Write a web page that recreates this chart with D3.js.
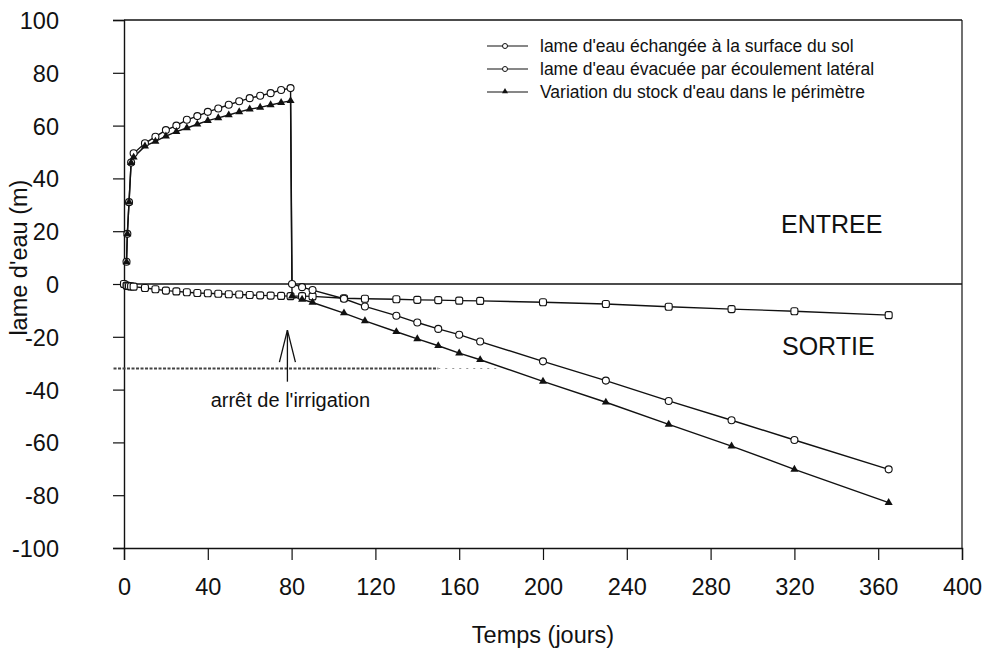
<!DOCTYPE html>
<html>
<head>
<meta charset="utf-8">
<script src="https://cdn.jsdelivr.net/npm/d3@7/dist/d3.min.js"></script>
<style>
  html, body { margin: 0; padding: 0; background: #fff; }
  svg { display: block; font-family: "Liberation Sans", Arial, sans-serif; }
</style>
</head>
<body>
<svg id="chart" width="986" height="650"></svg>
<script>
// Bilan hydrique du périmètre irrigué : lames d'eau cumulées (m) en fonction du temps (jours)

// Lame d'eau échangée à la surface du sol (cercles)
const surfaceDays   = [1.2, 1.6, 2.4, 3.4, 4.6, 10, 15, 20, 25, 30, 35, 40, 45, 50, 55, 60, 65, 70, 75, 79.5,
                       80.2, 85, 90, 105, 115, 130, 140, 150, 160, 170, 200, 230, 260, 290, 320, 365];
const surfaceValues = [8.4, 19, 31, 46, 49.5, 53.3, 55.8, 58.3, 60, 62.2, 63.6, 65.2, 66.5, 67.9, 69.2, 70.4, 71.3, 72.3, 73.5, 74.2,
                       0, -1.2, -2.3, -5.6, -8.5, -12, -14.6, -17, -19.2, -21.8, -29.3, -36.6, -44.3, -51.6, -59.1, -70.2];

// Lame d'eau évacuée par écoulement latéral (carrés)
const lateralDays   = [0, 1.2, 1.6, 2.4, 3.4, 4.6, 10, 15, 20, 25, 30, 35, 40, 45, 50, 55, 60, 65, 70, 75, 79.5,
                       85, 90, 105, 115, 130, 140, 150, 160, 170, 200, 230, 260, 290, 320, 365];
const lateralValues = [0, -0.6, -0.7, -0.8, -0.9, -1.0, -1.5, -2, -2.5, -2.8, -3.1, -3.4, -3.5, -3.7, -3.9, -4.0, -4.15, -4.3, -4.4, -4.5, -4.6,
                       -4.6, -4.7, -5.4, -5.6, -5.8, -6.0, -6.1, -6.3, -6.4, -6.9, -7.6, -8.6, -9.5, -10.3, -11.8];

// Variation du stock d'eau dans le périmètre (triangles pleins)
const stockDays   = [1.2, 1.6, 2.4, 3.4, 4.6, 10, 15, 20, 25, 30, 35, 40, 45, 50, 55, 60, 65, 70, 75, 79.5,
                     80.2, 85, 90, 105, 115, 130, 140, 150, 160, 170, 200, 230, 260, 290, 320, 365];
const stockValues = [8.4, 19, 31, 46, 48, 52.2, 54, 56, 57.7, 59.1, 60.5, 61.9, 62.9, 64, 65.2, 66.2, 66.9, 67.8, 68.7, 69.4,
                     -4.6, -5.8, -7.0, -11, -14, -18.1, -20.8, -23.4, -26.2, -28.7, -36.9, -44.8, -53.2, -61.4, -70.2, -82.8];

const xTicks = [0, 40, 80, 120, 160, 200, 240, 280, 320, 360, 400];
const yTicks = [-100, -80, -60, -40, -20, 0, 20, 40, 60, 80, 100];

const seriesNames = [
  "lame d'eau échangée à la surface du sol",
  "lame d'eau évacuée par écoulement latéral",
  "Variation du stock d'eau dans le périmètre"
];
const xTitle = "Temps (jours)";
const yTitle = "lame d'eau (m)";
const zoneLabels = ["ENTREE", "SORTIE"];
const stopLabel = "arrêt de l'irrigation";
const stopDay = 78;

// ---------------------------------------------------------------
const svg = d3.select("#chart");
const margin = { left: 124, right: 24, top: 20, bottom: 102 };
const W = 986, H = 650;

const x = d3.scaleLinear().domain([0, 400]).range([margin.left, W - margin.right]);
const y = d3.scaleLinear().domain([-100, 100]).range([H - margin.bottom, margin.top]);

const ink = "#111";
const plainNumber = d => String(d);   // keep an ASCII hyphen for negatives

// Axes
const yAxis = svg.append("g")
  .attr("transform", `translate(${x(0)},0)`)
  .call(d3.axisLeft(y).tickValues(yTicks).tickSize(11).tickPadding(54).tickFormat(plainNumber));
const xAxis = svg.append("g")
  .attr("transform", `translate(0,${y(-100)})`)
  .call(d3.axisBottom(x).tickValues(xTicks).tickSize(12).tickPadding(18).tickFormat(plainNumber));

[yAxis, xAxis].forEach(g => {
  g.select(".domain").attr("stroke", ink).attr("stroke-width", 1.4);
  g.selectAll(".tick line").attr("stroke", ink).attr("stroke-width", 1.2);
  g.selectAll(".tick text")
    .attr("fill", ink)
    .style("font-family", "'Liberation Sans', Arial, sans-serif")
    .style("font-size", "23.5px");
});
yAxis.selectAll(".tick text").attr("dy", "0.36em");

// Frame: top and right sides
svg.append("line")
  .attr("x1", x(0)).attr("x2", x(400)).attr("y1", y(100)).attr("y2", y(100))
  .attr("stroke", ink).attr("stroke-width", 1.4);
svg.append("line")
  .attr("x1", x(400)).attr("x2", x(400)).attr("y1", y(100)).attr("y2", y(-100))
  .attr("stroke", ink).attr("stroke-width", 1.2);

// Zero line
svg.append("line")
  .attr("x1", x(0)).attr("x2", x(400)).attr("y1", y(0)).attr("y2", y(0))
  .attr("stroke", ink).attr("stroke-width", 1.4);

// Faint dotted trace near -32
svg.append("line")
  .attr("x1", x(-5)).attr("x2", x(150)).attr("y1", y(-32)).attr("y2", y(-32))
  .attr("stroke", "#444").attr("stroke-width", 1.8)
  .attr("stroke-dasharray", "3,1.5");
svg.append("line")
  .attr("x1", x(150)).attr("x2", x(178)).attr("y1", y(-32)).attr("y2", y(-32))
  .attr("stroke", "#999").attr("stroke-width", 1.2)
  .attr("stroke-dasharray", "2,5");

// Titles
svg.append("text")
  .attr("x", (x(0) + x(400)) / 2).attr("y", 643)
  .attr("text-anchor", "middle").attr("fill", ink)
  .style("font-size", "23.5px").text(xTitle);
svg.append("text")
  .attr("transform", `translate(27,${y(10)}) rotate(-90)`)
  .attr("text-anchor", "middle").attr("fill", ink)
  .style("font-size", "23.5px").text(yTitle);

// Series
const line = d3.line().x(d => x(d[0])).y(d => y(d[1]));
const zip = (a, b) => a.map((d, i) => [d, b[i]]);
const surface = zip(surfaceDays, surfaceValues);
const lateral = zip(lateralDays, lateralValues);
const stock = zip(stockDays, stockValues);

[lateral, surface, stock].forEach(s => {
  svg.append("path").datum(s).attr("d", line)
    .attr("fill", "none").attr("stroke", ink).attr("stroke-width", 1.4);
});

svg.append("g").selectAll("rect").data(lateral).join("rect")
  .attr("x", d => x(d[0]) - 3.5).attr("y", d => y(d[1]) - 3.5)
  .attr("width", 7).attr("height", 7).attr("rx", 2)
  .attr("fill", "#fff").attr("stroke", ink).attr("stroke-width", 1.1);

svg.append("g").selectAll("circle").data(surface).join("circle")
  .attr("cx", d => x(d[0])).attr("cy", d => y(d[1])).attr("r", 3.5)
  .attr("fill", "#fff").attr("stroke", ink).attr("stroke-width", 1.1);

const tri = d3.symbol().type(d3.symbolTriangle).size(28);
svg.append("g").selectAll("path").data(stock).join("path")
  .attr("transform", d => `translate(${x(d[0])},${y(d[1])})`)
  .attr("d", tri).attr("fill", ink);

// Legend
const legend = svg.append("g").attr("transform", "translate(487,46)");
seriesNames.forEach((name, i) => {
  const g = legend.append("g").attr("transform", `translate(0,${i * 23})`);
  g.append("line").attr("x1", 0).attr("x2", 41).attr("y1", 0).attr("y2", 0)
    .attr("stroke", ink).attr("stroke-width", 1.2);
  if (i < 2) {
    g.append("circle").attr("cx", 18).attr("cy", 0).attr("r", 2.5)
      .attr("fill", "#fff").attr("stroke", ink).attr("stroke-width", 1);
  } else {
    g.append("path").attr("transform", "translate(18,-0.5)")
      .attr("d", d3.symbol().type(d3.symbolTriangle).size(16)).attr("fill", ink);
  }
  g.append("text").attr("x", 53).attr("y", 0).attr("dy", "0.35em")
    .attr("fill", ink).style("font-size", "17.5px").text(name);
});

// Zone labels
svg.append("text").attr("x", 781).attr("y", 233).attr("fill", ink)
  .style("font-size", "25px").text(zoneLabels[0]);
svg.append("text").attr("x", 782).attr("y", 355).attr("fill", ink)
  .style("font-size", "25px").text(zoneLabels[1]);

// Arrow marking the end of irrigation
const ax = x(stopDay);
const tipY = y(-17.5);
svg.append("line").attr("x1", ax).attr("x2", ax).attr("y1", tipY).attr("y2", y(-37))
  .attr("stroke", ink).attr("stroke-width", 1.3);
svg.append("path")
  .attr("d", `M${ax - 8},${tipY + 32} L${ax},${tipY} L${ax + 8},${tipY + 32}`)
  .attr("fill", "none").attr("stroke", ink).attr("stroke-width", 1.3);
svg.append("text").attr("x", ax + 3).attr("y", 407).attr("text-anchor", "middle")
  .attr("fill", ink).style("font-size", "20px").text(stopLabel);
</script>
</body>
</html>
